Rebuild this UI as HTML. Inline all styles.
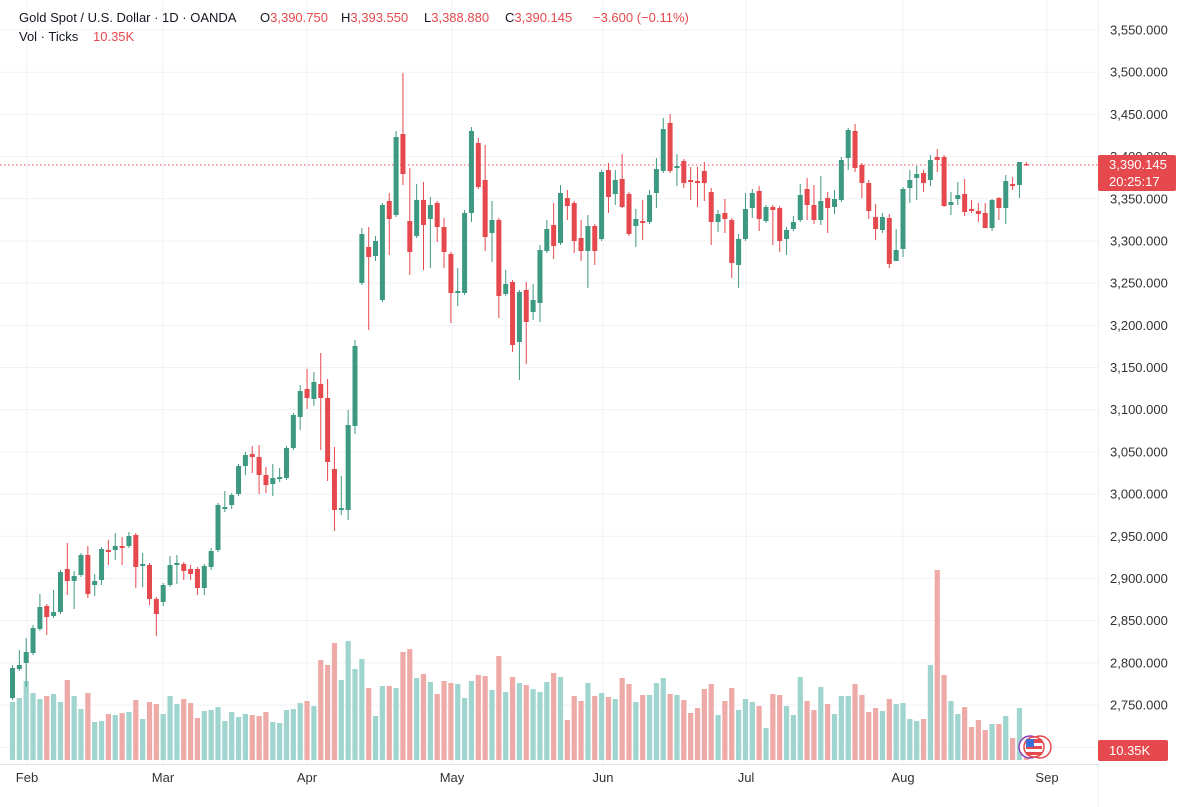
<!DOCTYPE html>
<html><head><meta charset="utf-8">
<style>
html,body{margin:0;padding:0;background:#fff;}
body{width:1200px;height:807px;overflow:hidden;font-family:"Liberation Sans",sans-serif;}
svg{position:absolute;left:0;top:0;}
</style></head><body>
<svg id="c" width="1200" height="807" xmlns="http://www.w3.org/2000/svg"></svg>
<script>
var C=[
["g",668,698,665,700],["g",665,669,650,671],["g",652,663,638,687],["g",628,653,625,655],["g",607,629,594,631],
["r",606,617,604,635],["g",612,616,590,618],["g",572,612,570,614],["r",569,581,543,595],["g",576,581,571,609],
["g",555,575,553,577],["r",555,594,546,598],["g",581,585,574,596],["g",549,580,547,585],["r",550,552,540,565],
["g",546,550,533,560],["r",546,548,537,565],["g",536,546,532,548],["r",535,567,533,588],["g",564,566,553,587],
["r",565,599,563,605],["r",599,614,597,636],["g",585,602,583,606],["g",565,585,556,587],["g",563,565,555,584],
["r",564,571,562,580],["r",569,574,565,580],["r",569,588,567,595],["g",566,588,564,595],["g",551,567,548,570],
["g",505,550,503,552],["g",507,509,491,512],["g",495,505,493,509],["g",466,494,464,496],["g",455,466,452,475],
["r",454,457,446,473],["r",457,475,445,494],["r",475,485,467,493],["g",478,484,464,496],["g",477,479,468,482],
["g",448,478,446,480],["g",415,448,413,450],["g",391,417,385,430],["r",389,398,369,409],["g",382,399,372,406],
["r",384,398,353,450],["r",398,462,379,481],["r",469,510,447,531],["g",508,510,476,515],["g",425,510,410,520],
["g",346,426,340,434],["g",234,283,228,285],["r",247,257,227,330],["g",241,256,236,261],["g",205,300,203,302],
["r",201,219,193,255],["g",137,215,131,217],["r",134,174,73,185],["r",221,252,168,275],["g",200,236,184,238],
["r",200,225,182,270],["g",205,219,197,268],["r",203,227,201,242],["r",227,252,218,268],["r",254,293,252,323],
["g",291,293,268,306],["g",213,293,210,295],["g",131,213,127,222],["r",143,187,138,189],["r",180,237,145,251],
["g",220,233,201,262],["r",220,296,218,318],["g",284,294,270,296],["r",282,345,280,352],["g",292,342,290,380],
["r",290,322,282,364],["g",300,312,284,320],["g",250,303,245,322],["g",229,251,220,253],["r",225,246,203,259],
["g",193,243,185,245],["r",198,206,190,220],["r",203,241,201,253],["r",238,251,220,261],["g",226,251,215,288],
["r",226,251,224,265],["g",172,239,170,241],["r",170,197,163,213],["g",180,194,170,205],["r",179,207,154,208],
["r",194,234,192,236],["g",219,226,209,247],["r",221,223,200,240],["g",195,222,190,224],["g",169,193,158,208],
["g",129,171,118,173],["r",123,171,114,173],["g",166,168,154,186],["r",161,183,159,188],["r",180,182,167,200],
["r",181,183,167,207],["r",171,183,162,201],["r",192,222,188,245],["g",214,222,210,232],["r",213,219,199,233],
["r",220,263,218,278],["g",239,265,234,288],["g",209,239,193,241],["g",193,208,189,218],["r",191,219,186,231],
["g",207,221,205,223],["r",207,210,205,245],["r",208,241,206,252],["g",230,239,227,255],["g",222,229,216,231],
["g",195,220,184,222],["r",189,205,178,220],["r",205,220,185,224],["g",201,220,176,225],["r",198,208,192,233],
["g",199,207,190,214],["g",160,200,157,202],["g",130,158,128,170],["r",131,168,124,172],["r",165,183,163,198],
["r",183,211,180,219],["r",217,229,204,240],["g",217,230,213,233],["r",218,264,214,268],["g",250,261,229,261],
["g",189,249,187,257],["g",180,188,170,203],["g",174,178,166,200],["r",173,183,170,192],["g",160,180,155,186],
["r",157,160,149,172],["r",157,206,155,207],["g",202,205,192,215],["g",195,199,182,205],["r",194,212,179,216],
["r",209,211,200,213],["r",211,214,203,222],["r",213,228,203,228],["g",200,228,199,231],["r",198,208,197,220],
["g",181,208,175,224],["r",184,186,177,190],["g",162,185,162,198],["r",164,165,162,166]];
var V=[702,698,681,693,699,696,694,702,680,696,709,693,722,721,714,715,713,712,700,719,702,704,714,696,704,699,703,718,711,710,707,721,712,717,714,715,716,712,722,723,710,709,703,701,706,
660,665,643,680,641,669,659,688,716,686,686,688,652,649,678,674,682,694,681,683,684,698,681,675,676,690,656,692,677,683,685,689,692,682,673,677,720,696,701,683,696,693,697,699,678,684,702,695,695,683,678,694,695,700,713,708,
689,684,715,701,688,710,699,702,706,728,694,695,706,715,677,701,710,687,704,714,696,696,684,695,712,708,711,699,704,703,719,721,719,665,570,675,701,714,707,727,720,730,724,724,716,738,708,748];
var s='';
var G='#3d9981',R='#e5484d',VG='#9fd4cf',VR='#eeaaa7';
// grid
var prices=[3550,3500,3450,3400,3350,3300,3250,3200,3150,3100,3050,3000,2950,2900,2850,2800,2750,2700];
function py(p){return 30+(3550-p)*0.84375;}
prices.forEach(function(p){var y=py(p);s+='<line x1="0" x2="1098" y1="'+y+'" y2="'+y+'" stroke="#f0f1f4" stroke-width="1"/>';});
var mx=[[27,'Feb'],[163,'Mar'],[307,'Apr'],[452,'May'],[603,'Jun'],[746,'Jul'],[903,'Aug'],[1047,'Sep']];
mx.forEach(function(m){s+='<line x1="'+m[0]+'" x2="'+m[0]+'" y1="0" y2="764" stroke="#f0f1f4"/>';});
// volumes
for(var i=0;i<V.length;i++){var x=12.5+6.85*i;var c=C[i]?C[i][0]:'r';
s+='<rect x="'+(x-2.6)+'" y="'+V[i]+'" width="5.2" height="'+(760-V[i])+'" fill="'+(c=='g'?VG:VR)+'"/>';}
// price line
s+='<line x1="0" x2="1098" y1="165" y2="165" stroke="#e5484d" stroke-width="1" stroke-dasharray="1.5,2.5"/>';
// candles
for(var i=0;i<C.length;i++){var d=C[i];var x=12.5+6.85*i;var col=d[0]=='g'?G:R;
s+='<line x1="'+x+'" x2="'+x+'" y1="'+d[3]+'" y2="'+d[4]+'" stroke="'+col+'" stroke-width="1"/>';
var h=Math.max(1.2,d[2]-d[1]);
s+='<rect x="'+(x-2.5)+'" y="'+d[1]+'" width="5" height="'+h+'" fill="'+col+'"/>';}
// axis
s+='<line x1="0" x2="1098" y1="764.5" y2="764.5" stroke="#e0e3eb"/>';
s+='<line x1="1098.5" x2="1098.5" y1="0" y2="807" stroke="#eef0f3"/>';
prices.forEach(function(p){var y=py(p);var t=p.toLocaleString('en-US')+'.000';
s+='<text x="1110" y="'+(y+4.5)+'" font-size="13" fill="#333" font-family="Liberation Sans, sans-serif">'+t+'</text>';});
mx.forEach(function(m){s+='<text x="'+m[0]+'" y="782" font-size="13" fill="#333" text-anchor="middle" font-family="Liberation Sans, sans-serif">'+m[1]+'</text>';});
// price label
s+='<rect x="1098" y="155" width="78" height="36" rx="2" fill="#e5484d"/>';
s+='<text x="1109" y="169" font-size="13" fill="#fff" font-family="Liberation Sans, sans-serif">3,390.145</text>';
s+='<text x="1109" y="186" font-size="13" fill="#fff" font-family="Liberation Sans, sans-serif">20:25:17</text>';
s+='<rect x="1098" y="740" width="70" height="21" rx="2" fill="#e5484d"/>';
s+='<text x="1109" y="755" font-size="13" fill="#fff" font-family="Liberation Sans, sans-serif">10.35K</text>';
// flags
s+='<circle cx="1030" cy="747" r="11" fill="#fff" stroke="#8e3bb8" stroke-width="1.5"/>';
s+='<circle cx="1040" cy="747" r="11" fill="#fff" stroke="#e5484d" stroke-width="1.5"/>';
s+='<circle cx="1034" cy="747" r="10" fill="#fff" stroke="#e5484d" stroke-width="1.5"/>';
s+='<rect x="1026" y="739" width="16" height="4" fill="#e5484d"/><rect x="1026" y="746" width="16" height="3" fill="#e5484d"/><rect x="1026" y="752" width="16" height="3" fill="#e5484d"/>';
s+='<rect x="1026" y="739" width="8" height="8" fill="#3b6fd8"/>';
// header
s+='<text y="22" font-size="13" font-family="Liberation Sans, sans-serif" fill="#131722"><tspan x="19">Gold Spot / U.S. Dollar · 1D · OANDA</tspan><tspan x="260">O</tspan><tspan fill="#e5484d">3,390.750</tspan><tspan x="341">H</tspan><tspan fill="#e5484d">3,393.550</tspan><tspan x="424">L</tspan><tspan fill="#e5484d">3,388.880</tspan><tspan x="505">C</tspan><tspan fill="#e5484d">3,390.145</tspan><tspan x="593" fill="#e5484d">−3.600 (−0.11%)</tspan></text>';
s+='<text y="41" font-size="13" font-family="Liberation Sans, sans-serif" fill="#131722"><tspan x="19">Vol · Ticks</tspan><tspan x="93" fill="#e5484d">10.35K</tspan></text>';
document.getElementById('c').innerHTML=s;
</script>
</body></html>
